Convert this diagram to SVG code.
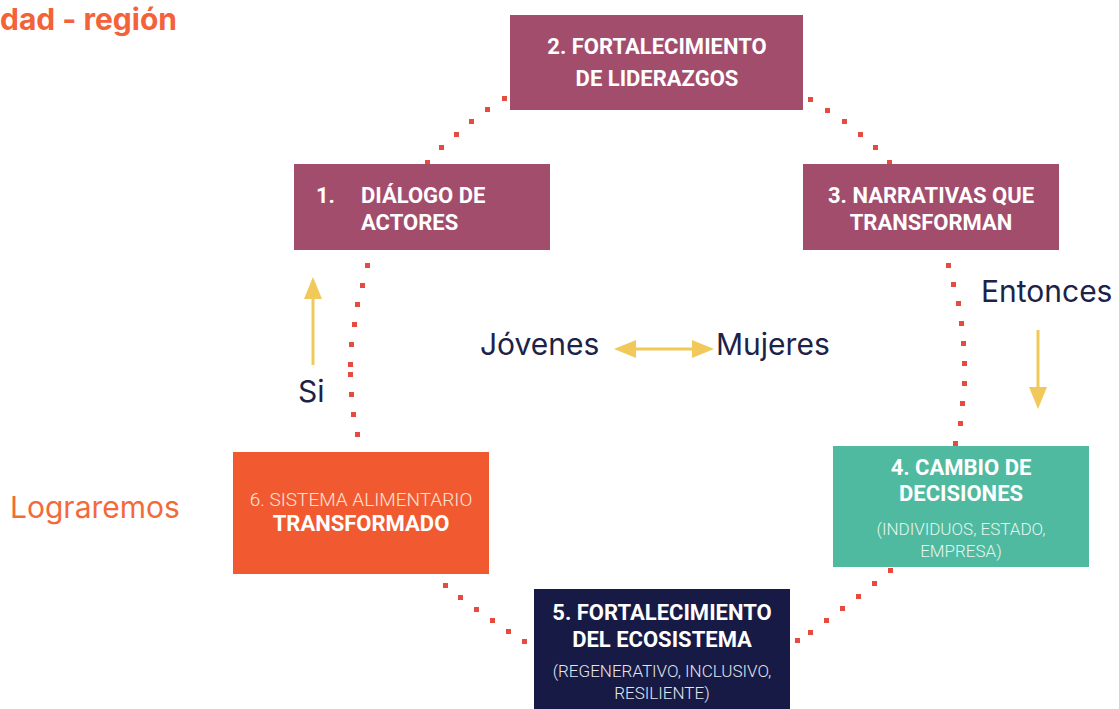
<svg xmlns="http://www.w3.org/2000/svg" width="1119" height="709" viewBox="0 0 1119 709">
<style>
.bt{font-family:Roboto,"Liberation Sans",sans-serif;font-weight:700;font-size:22px;fill:#ffffff;text-anchor:middle}
.st{font-family:Roboto,"Liberation Sans",sans-serif;font-weight:300;font-size:17px;text-anchor:middle}
.lb{font-family:Inter,"Liberation Sans",sans-serif;font-size:30px;fill:#1d2248}
.dot{fill:#e64b3f}
.ya{stroke:#f0c95a;stroke-width:3;fill:none}
.yh{fill:#f0c95a}
</style>
<rect width="1119" height="709" fill="#ffffff"/>
<text x="0" y="30" font-family="Inter,'Liberation Sans',sans-serif" font-weight="700" font-size="30" fill="#f4623a">dad - región</text>
<g id="connectors">
  <g class="dot">
    <rect x="502" y="96" width="5" height="5"/><rect x="485" y="107" width="5" height="5"/><rect x="469" y="119" width="5" height="5"/><rect x="454" y="132" width="5" height="5"/><rect x="439" y="145" width="5" height="5"/><rect x="425" y="160" width="5" height="5"/>
    <rect x="808" y="97" width="5" height="5"/><rect x="825" y="108" width="5" height="5"/><rect x="842" y="119" width="5" height="5"/><rect x="858" y="132" width="5" height="5"/><rect x="873" y="145" width="5" height="5"/><rect x="887" y="160" width="5" height="5"/>
    <rect x="946" y="263" width="5" height="5"/><rect x="951" y="282" width="5" height="5"/><rect x="956" y="301" width="5" height="5"/><rect x="959" y="321" width="5" height="5"/><rect x="961" y="341" width="5" height="5"/><rect x="962" y="361" width="5" height="5"/><rect x="962" y="381" width="5" height="5"/><rect x="960" y="401" width="5" height="5"/><rect x="958" y="421" width="5" height="5"/><rect x="953" y="441" width="5" height="5"/>
    <rect x="365" y="263" width="5" height="5"/><rect x="360" y="283" width="5" height="5"/><rect x="355" y="302" width="5" height="5"/><rect x="352" y="322" width="5" height="5"/><rect x="349" y="342" width="5" height="5"/><rect x="348" y="362" width="5" height="5"/><rect x="348" y="372" width="5" height="5"/><rect x="349" y="392" width="5" height="5"/><rect x="351" y="412" width="5" height="5"/><rect x="355" y="432" width="5" height="5"/>
    <rect x="443" y="583" width="5" height="5"/><rect x="458" y="595" width="5" height="5"/><rect x="474" y="607" width="5" height="5"/><rect x="490" y="618" width="5" height="5"/><rect x="506" y="629" width="5" height="5"/><rect x="522" y="639" width="5" height="5"/>
    <rect x="888" y="568" width="5" height="5"/><rect x="872" y="581" width="5" height="5"/><rect x="856" y="594" width="5" height="5"/><rect x="840" y="606" width="5" height="5"/><rect x="824" y="618" width="5" height="5"/><rect x="808" y="630" width="5" height="5"/><rect x="795" y="638" width="5" height="5"/>
  </g>
  <line class="ya" x1="313" y1="365" x2="313" y2="296"/>
  <polygon class="yh" points="313,277 304,299 322,299"/>
  <line class="ya" x1="1038" y1="330" x2="1038" y2="390"/>
  <polygon class="yh" points="1038,409 1029,387 1047,387"/>
  <line class="ya" x1="630" y1="349" x2="698" y2="349"/>
  <polygon class="yh" points="614,349 636,340 636,358"/>
  <polygon class="yh" points="714,349 692,340 692,358"/>
</g>
<g id="node2">
  <rect x="510" y="15" width="293" height="95" fill="#a34d6d"/>
  <text class="bt" x="657" y="54">2. FORTALECIMIENTO</text>
  <text class="bt" x="657" y="86">DE LIDERAZGOS</text>
</g>
<g id="node1">
  <rect x="294" y="164" width="256" height="86" fill="#a34d6d"/>
  <text class="bt" x="316" y="203" style="text-anchor:start">1.</text>
  <text class="bt" x="361" y="203" style="text-anchor:start">DIÁLOGO DE</text>
  <text class="bt" x="361" y="230" style="text-anchor:start">ACTORES</text>
</g>
<g id="node3">
  <rect x="803" y="164" width="256" height="86" fill="#a34d6d"/>
  <text class="bt" x="931" y="203">3. NARRATIVAS QUE</text>
  <text class="bt" x="931" y="230">TRANSFORMAN</text>
</g>
<g id="node4">
  <rect x="833" y="446" width="256" height="121" fill="#4fbaa0"/>
  <text class="bt" x="961" y="475">4. CAMBIO DE</text>
  <text class="bt" x="961" y="501">DECISIONES</text>
  <text class="st" x="961" y="535" fill="#e6f5ef">(INDIVIDUOS, ESTADO,</text>
  <text class="st" x="961" y="557" fill="#e6f5ef">EMPRESA)</text>
</g>
<g id="node5">
  <rect x="534" y="589" width="256" height="120" fill="#171a45"/>
  <text class="bt" x="662" y="620">5. FORTALECIMIENTO</text>
  <text class="bt" x="662" y="647">DEL ECOSISTEMA</text>
  <text class="st" x="662" y="677" fill="#e4e5ee">(REGENERATIVO, INCLUSIVO,</text>
  <text class="st" x="662" y="699" fill="#e4e5ee">RESILIENTE)</text>
</g>
<g id="node6">
  <rect x="233" y="452" width="256" height="122" fill="#f15a31"/>
  <text class="st" x="361" y="506" fill="#fde3d6" style="font-size:19px">6. SISTEMA ALIMENTARIO</text>
  <text class="bt" x="361" y="531" fill="#fff4ee">TRANSFORMADO</text>
</g>
<g id="labels">
  <text class="lb" x="10" y="518" style="fill:#f26a3a">Lograremos</text>
  <text class="lb" x="981" y="302">Entonces</text>
  <text class="lb" x="298" y="402">Si</text>
  <text class="lb" x="480" y="355">Jóvenes</text>
  <text class="lb" x="716" y="355">Mujeres</text>
</g>
</svg>
